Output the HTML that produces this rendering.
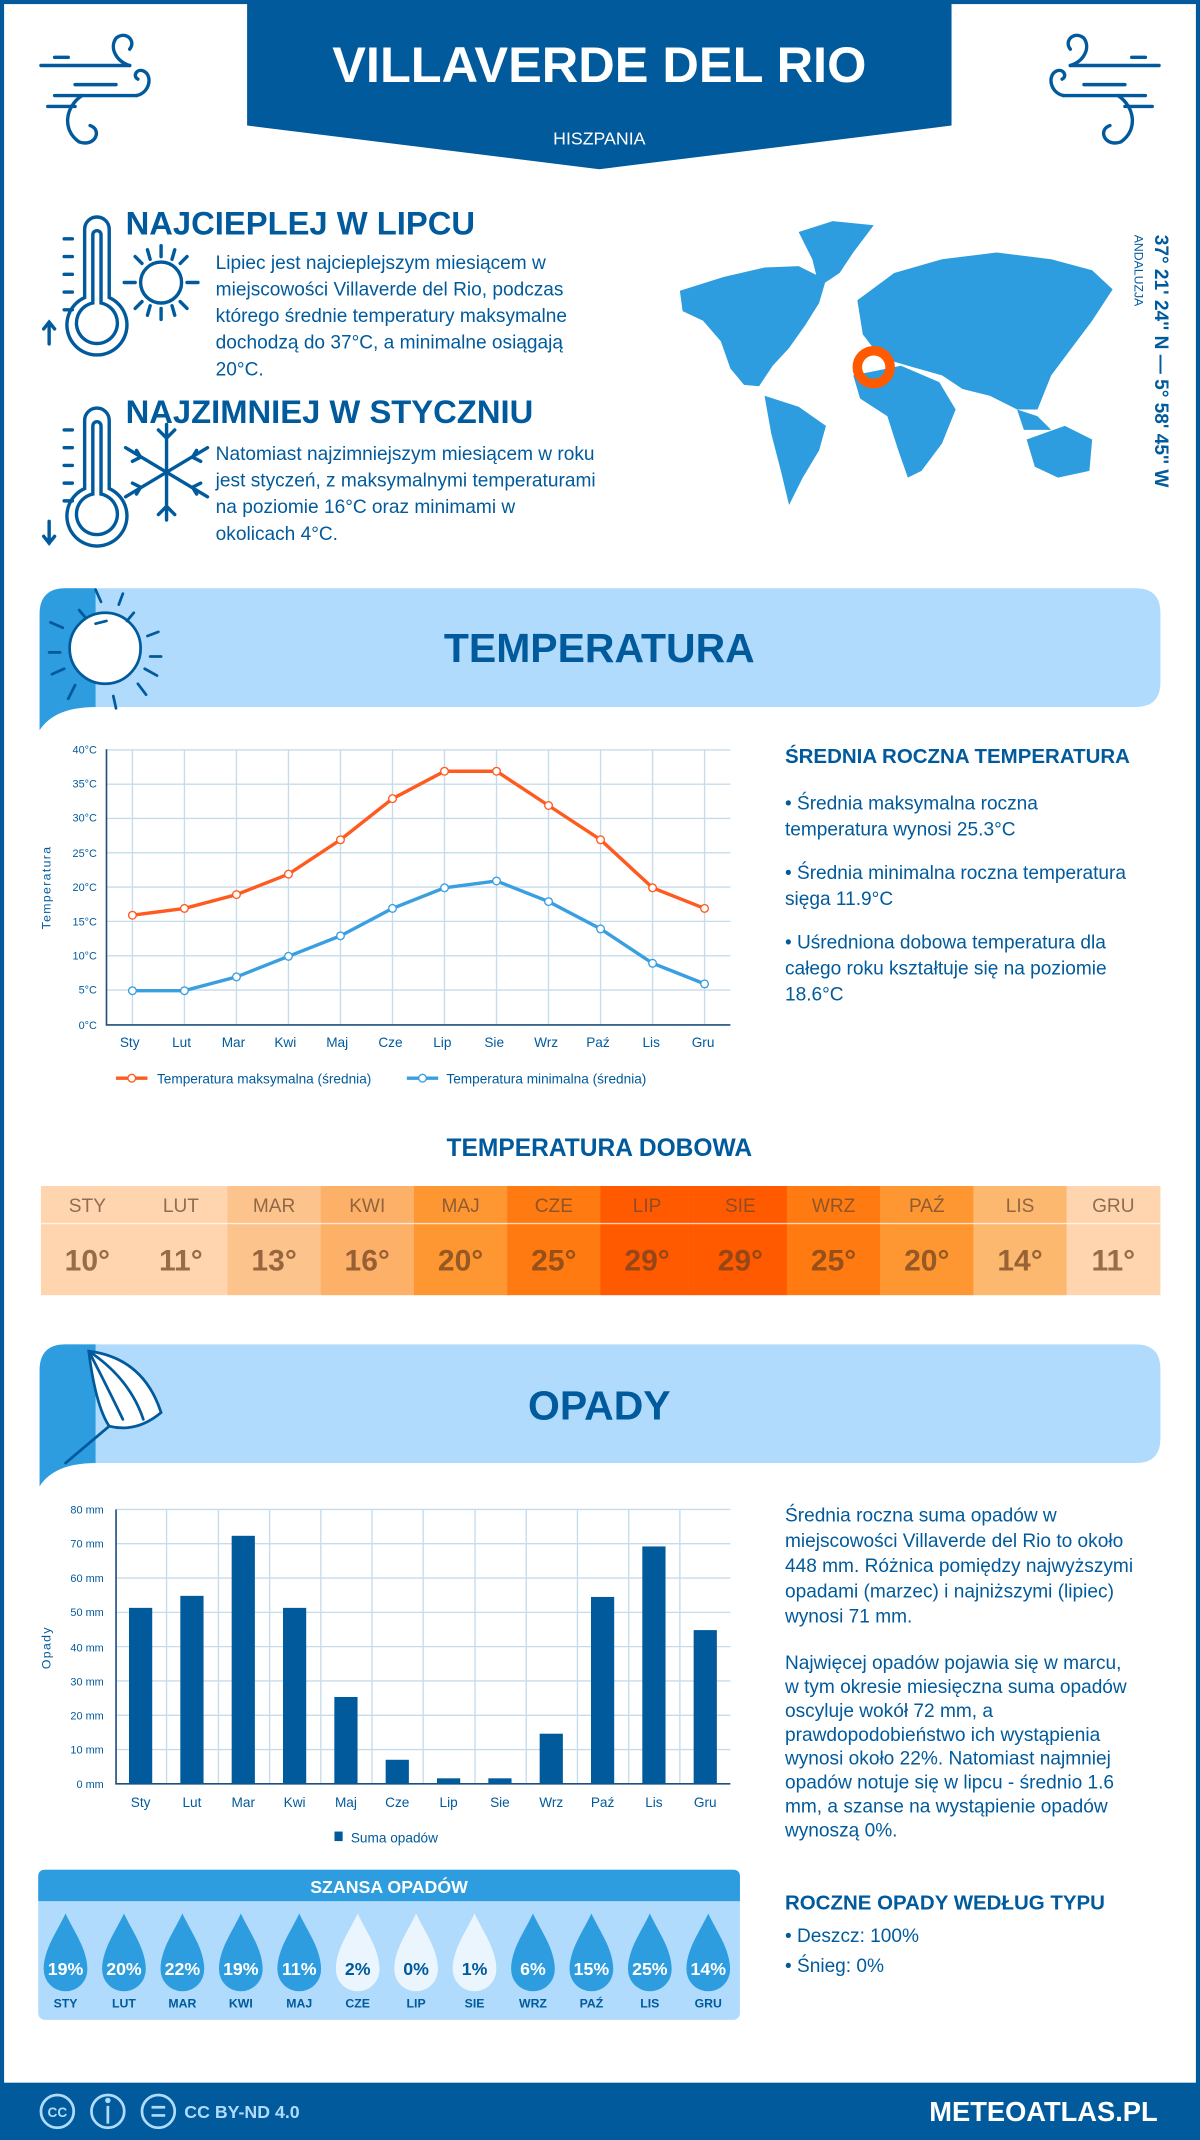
<!DOCTYPE html>
<html><head><meta charset="utf-8"><style>
html,body{margin:0;padding:0;background:#fff;}
svg{display:block;font-family:"Liberation Sans",sans-serif;}
</style></head><body>
<svg width="1200" height="2140" viewBox="0 0 879 1568" preserveAspectRatio="none" xmlns="http://www.w3.org/2000/svg">
<rect x="0" y="0" width="879" height="1568" fill="#fff"/>
<rect x="0" y="0" width="3" height="1568" fill="#005a9c"/>
<rect x="876" y="0" width="3" height="1568" fill="#005a9c"/>
<rect x="0" y="0" width="879" height="3" fill="#005a9c"/>
<path d="M181,0 L697,0 L697,92 L439,124 L181,92 Z" fill="#005a9c"/>
<text x="439" y="60" text-anchor="middle" font-size="37" font-weight="bold" fill="#fff">VILLAVERDE DEL RIO</text>
<text x="439" y="106" text-anchor="middle" font-size="13" fill="#fff">HISZPANIA</text>
<g fill="none" stroke="#005a9c" stroke-width="2.5" stroke-linecap="round">
<path d="M30,48 L95,48 M40,42 L50,42 M40,70 L100,70 M55,62 L85,62 M35,78 L55,78"/>
<path d="M95,48 C85,45 80,35 85,28 C92,22 100,30 95,36"/>
<path d="M100,70 C110,68 112,55 105,52 C100,50 97,56 101,58"/>
<path d="M60,70 C48,78 45,95 58,104 C70,108 75,95 66,92"/>
<path d="M849,48 L784,48 M839,42 L829,42 M839,70 L779,70 M824,62 L794,62 M844,78 L824,78"/>
<path d="M784,48 C794,45 799,35 794,28 C787,22 779,30 784,36"/>
<path d="M779,70 C769,68 767,55 774,52 C779,50 782,56 778,58"/>
<path d="M819,70 C831,78 834,95 821,104 C809,108 804,95 813,92"/>
</g>
<g fill="none" stroke="#005a9c" stroke-width="2.5" stroke-linecap="round">
<path d="M62,218 L62,168 A9,9 0 0 1 80,168 L80,218 A22,22 0 1 1 62,218 Z"/>
<path d="M68,222 L68,172 A3,3 0 0 1 74,172 L74,222 A15,15 0 1 1 68,222 Z"/>
<path d="M47,175 L53,175 M47,188 L53,188 M47,201 L53,201 M47,214 L53,214 M47,227 L53,227"/>
<path d="M36,252 L36,236 M32,241 L36,236 L40,241"/>
<path d="M62,358 L62,308 A9,9 0 0 1 80,308 L80,358 A22,22 0 1 1 62,358 Z"/>
<path d="M68,362 L68,312 A3,3 0 0 1 74,312 L74,362 A15,15 0 1 1 68,362 Z"/>
<path d="M47,315 L53,315 M47,328 L53,328 M47,341 L53,341 M47,354 L53,354 M47,367 L53,367"/>
<path d="M36,382 L36,398 M32,393 L36,398 L40,393"/>
<circle cx="118" cy="207" r="15"/>
<path d="M118,180 L118,188 M118,226 L118,234 M91,207 L99,207 M137,207 L145,207 M99,188 L104,193 M132,221 L137,226 M137,188 L132,193 M99,226 L104,221 M108,183 L110,190 M128,183 L126,190 M108,231 L110,224 M128,231 L126,224"/>
<path d="M122,311 L122,381 M92,328 L152,364 M152,328 L92,364 M116,315 L122,321 L128,315 M116,377 L122,371 L128,377 M97,338 L103,335 L100,330 M147,354 L141,357 L144,362 M147,338 L141,335 L144,330 M97,354 L103,357 L100,362"/>
</g>
<text x="92" y="172" font-size="24" font-weight="bold" fill="#005a9c">NAJCIEPLEJ W LIPCU</text>
<g font-size="14" fill="#005a9c">
<text x="158" y="197">Lipiec jest najcieplejszym miesiącem w</text>
<text x="158" y="216.5">miejscowości Villaverde del Rio, podczas</text>
<text x="158" y="236">którego średnie temperatury maksymalne</text>
<text x="158" y="255.5">dochodzą do 37°C, a minimalne osiągają</text>
<text x="158" y="275">20°C.</text>
</g>
<text x="92" y="310" font-size="24" font-weight="bold" fill="#005a9c">NAJZIMNIEJ W STYCZNIU</text>
<g font-size="14" fill="#005a9c">
<text x="158" y="337">Natomiast najzimniejszym miesiącem w roku</text>
<text x="158" y="356.5">jest styczeń, z maksymalnymi temperaturami</text>
<text x="158" y="376">na poziomie 16°C oraz minimami w</text>
<text x="158" y="395.5">okolicach 4°C.</text>
</g>
<g fill="#2d9ddf">
<path d="M498,213 L530,203 L560,196 L585,195 L605,205 L600,222 L590,238 L578,255 L566,268 L556,283 L545,282 L535,270 L528,250 L515,235 L500,228Z"/>
<path d="M585,170 L610,162 L640,165 L625,185 L615,200 L600,210 L595,190Z"/>
<path d="M560,290 L585,298 L605,312 L600,330 L588,350 L578,370 L572,345 L565,318Z"/>
<path d="M628,220 L655,200 L690,190 L730,185 L770,190 L800,198 L815,212 L800,235 L785,255 L770,275 L760,300 L745,300 L725,290 L705,285 L690,275 L665,268 L645,262 L632,245Z"/>
<path d="M625,275 L660,268 L688,280 L700,300 L690,325 L675,345 L665,350 L658,330 L650,305 L630,292Z"/>
<path d="M752,322 L780,312 L800,322 L798,345 L775,350 L758,342Z"/>
<path d="M745,300 L760,305 L770,315 L750,315Z"/>
</g>
<circle cx="640" cy="269" r="12" fill="none" stroke="#ff5a00" stroke-width="7"/>
<text transform="translate(846,172) rotate(90)" font-size="14" font-weight="bold" fill="#005a9c">37° 21' 24'' N — 5° 58' 45'' W</text>
<text transform="translate(831,172) rotate(90)" font-size="9" fill="#005a9c">ANDALUZJA</text>
<path d="M29,450 Q29,431 48,431 L832,431 Q850,431 850,449 L850,500 Q850,518 832,518 L70,518 Q40,518 29,535 Z" fill="#b0dbfc"/>
<path d="M29,450 Q29,431 48,431 L70,431 L70,518 Q40,518 29,535 Z" fill="#2d9ddf"/>
<g fill="none" stroke="#005a9c" stroke-width="2" stroke-linecap="round">
<circle cx="77" cy="475" r="26" fill="#fff"/>
<path d="M74,441 L70,432 M87,443 L90,435 M46,460 L37,456 M108,466 L116,463 M44,478 L36,478 M110,481 L118,481 M47,490 L38,494 M106,490 L115,495 M55,502 L50,512 M101,501 L107,509 M83,510 L85,519 M58,447 L63,453 M98,449 L93,455 M70,457 L78,455"/>
</g>
<text x="439" y="485" text-anchor="middle" font-size="30" font-weight="bold" fill="#005a9c">TEMPERATURA</text>
<g stroke="#c7dceb" stroke-width="1">
<path d="M78,549.5 H535 M78,574.6 H535 M78,599.7 H535 M78,624.9 H535 M78,650 H535 M78,675.1 H535 M78,700.3 H535 M78,725.4 H535"/>
<path d="M97,549 V751 M135.1,549 V751 M173.2,549 V751 M211.3,549 V751 M249.4,549 V751 M287.5,549 V751 M325.6,549 V751 M363.7,549 V751 M401.8,549 V751 M439.9,549 V751 M478,549 V751 M516.1,549 V751"/>
</g>
<path d="M78,549 V751 H535" fill="none" stroke="#1f4f7a" stroke-width="1.2"/>
<g font-size="8" fill="#005a9c" text-anchor="end">
<text x="71" y="552">40°C</text><text x="71" y="577">35°C</text><text x="71" y="602">30°C</text><text x="71" y="628">25°C</text><text x="71" y="653">20°C</text><text x="71" y="678">15°C</text><text x="71" y="703">10°C</text><text x="71" y="728">5°C</text><text x="71" y="754">0°C</text>
</g>
<text transform="translate(37,681) rotate(-90)" font-size="9" fill="#005a9c" letter-spacing="1">Temperatura</text>
<g font-size="10" fill="#005a9c" text-anchor="middle">
<text x="95" y="767">Sty</text><text x="133" y="767">Lut</text><text x="171" y="767">Mar</text><text x="209" y="767">Kwi</text><text x="247" y="767">Maj</text><text x="286" y="767">Cze</text><text x="324" y="767">Lip</text><text x="362" y="767">Sie</text><text x="400" y="767">Wrz</text><text x="438" y="767">Paź</text><text x="477" y="767">Lis</text><text x="515" y="767">Gru</text>
</g>
<polyline fill="none" stroke="#ff5a1f" stroke-width="2.5" points="97,670.6 135.1,665.6 173.2,655.5 211.3,640.5 249.4,615.3 287.5,585.2 325.6,565.1 363.7,565.1 401.8,590.2 439.9,615.3 478,650.5 516.1,665.6"/>
<polyline fill="none" stroke="#3a9fe0" stroke-width="2.5" points="97,725.9 135.1,725.9 173.2,715.8 211.3,700.7 249.4,685.7 287.5,665.6 325.6,650.5 363.7,645.5 401.8,660.6 439.9,680.6 478,705.8 516.1,720.9"/>
<g fill="#fff" stroke="#ff5a1f" stroke-width="1">
<circle cx="97" cy="670.6" r="2.8"/><circle cx="135.1" cy="665.6" r="2.8"/><circle cx="173.2" cy="655.5" r="2.8"/><circle cx="211.3" cy="640.5" r="2.8"/><circle cx="249.4" cy="615.3" r="2.8"/><circle cx="287.5" cy="585.2" r="2.8"/><circle cx="325.6" cy="565.1" r="2.8"/><circle cx="363.7" cy="565.1" r="2.8"/><circle cx="401.8" cy="590.2" r="2.8"/><circle cx="439.9" cy="615.3" r="2.8"/><circle cx="478" cy="650.5" r="2.8"/><circle cx="516.1" cy="665.6" r="2.8"/>
</g>
<g fill="#fff" stroke="#3a9fe0" stroke-width="1">
<circle cx="97" cy="725.9" r="2.8"/><circle cx="135.1" cy="725.9" r="2.8"/><circle cx="173.2" cy="715.8" r="2.8"/><circle cx="211.3" cy="700.7" r="2.8"/><circle cx="249.4" cy="685.7" r="2.8"/><circle cx="287.5" cy="665.6" r="2.8"/><circle cx="325.6" cy="650.5" r="2.8"/><circle cx="363.7" cy="645.5" r="2.8"/><circle cx="401.8" cy="660.6" r="2.8"/><circle cx="439.9" cy="680.6" r="2.8"/><circle cx="478" cy="705.8" r="2.8"/><circle cx="516.1" cy="720.9" r="2.8"/>
</g>
<path d="M85,790 H108" stroke="#ff5a1f" stroke-width="2.5"/><circle cx="96.5" cy="790" r="2.8" fill="#fff" stroke="#ff5a1f"/>
<text x="115" y="794" font-size="10" fill="#005a9c">Temperatura maksymalna (średnia)</text>
<path d="M298,790 H321" stroke="#3a9fe0" stroke-width="2.5"/><circle cx="309.5" cy="790" r="2.8" fill="#fff" stroke="#3a9fe0"/>
<text x="327" y="794" font-size="10" fill="#005a9c">Temperatura minimalna (średnia)</text>
<text x="575" y="559" font-size="15" font-weight="bold" fill="#005a9c">ŚREDNIA ROCZNA TEMPERATURA</text>
<g font-size="14" fill="#005a9c">
<text x="575" y="593">• Średnia maksymalna roczna</text>
<text x="575" y="612">temperatura wynosi 25.3°C</text>
<text x="575" y="644">• Średnia minimalna roczna temperatura</text>
<text x="575" y="663">sięga 11.9°C</text>
<text x="575" y="695">• Uśredniona dobowa temperatura dla</text>
<text x="575" y="714">całego roku kształtuje się na poziomie</text>
<text x="575" y="733">18.6°C</text>
</g>
<text x="439" y="847" text-anchor="middle" font-size="18" font-weight="bold" fill="#005a9c">TEMPERATURA DOBOWA</text>
<g>
<rect x="30" y="869" width="68.5" height="80" fill="#fed5ae"/>
<rect x="98.3" y="869" width="68.5" height="80" fill="#fed5ae"/>
<rect x="166.6" y="869" width="68.5" height="80" fill="#fdc38c"/>
<rect x="234.9" y="869" width="68.5" height="80" fill="#fdb068"/>
<rect x="303.2" y="869" width="68.5" height="80" fill="#fe9631"/>
<rect x="371.5" y="869" width="68.5" height="80" fill="#ff7a10"/>
<rect x="439.8" y="869" width="68.5" height="80" fill="#ff5a00"/>
<rect x="508.1" y="869" width="68.5" height="80" fill="#ff5a00"/>
<rect x="576.4" y="869" width="68.5" height="80" fill="#ff7a10"/>
<rect x="644.7" y="869" width="68.5" height="80" fill="#fe9631"/>
<rect x="713" y="869" width="68.5" height="80" fill="#fdb870"/>
<rect x="781.3" y="869" width="68.7" height="80" fill="#fed5ae"/>
<rect x="30" y="896" width="820" height="1" fill="#fff" opacity="0.7"/>
</g>
<g font-size="14" fill="#6b4a30" fill-opacity="0.75" text-anchor="middle">
<text x="64" y="888">STY</text><text x="132.5" y="888">LUT</text><text x="200.8" y="888">MAR</text><text x="269" y="888">KWI</text><text x="337.4" y="888">MAJ</text><text x="405.7" y="888">CZE</text><text x="474" y="888">LIP</text><text x="542.3" y="888">SIE</text><text x="610.6" y="888">WRZ</text><text x="678.9" y="888">PAŹ</text><text x="747.2" y="888">LIS</text><text x="815.5" y="888">GRU</text>
</g>
<g font-size="22" font-weight="bold" fill="#6b3e1e" fill-opacity="0.7" text-anchor="middle">
<text x="64" y="931">10°</text><text x="132.5" y="931">11°</text><text x="200.8" y="931">13°</text><text x="269" y="931">16°</text><text x="337.4" y="931">20°</text><text x="405.7" y="931">25°</text><text x="474" y="931">29°</text><text x="542.3" y="931">29°</text><text x="610.6" y="931">25°</text><text x="678.9" y="931">20°</text><text x="747.2" y="931">14°</text><text x="815.5" y="931">11°</text>
</g>
<path d="M29,1004 Q29,985 48,985 L832,985 Q850,985 850,1003 L850,1054 Q850,1072 832,1072 L70,1072 Q40,1072 29,1089 Z" fill="#b0dbfc"/>
<path d="M29,1004 Q29,985 48,985 L70,985 L70,1072 Q40,1072 29,1089 Z" fill="#2d9ddf"/>
<g fill="none" stroke="#005a9c" stroke-width="2" stroke-linecap="round">
<path d="M65,990 Q105,995 118,1035 Q100,1050 80,1045 Q70,1030 65,990 Z" fill="#fff"/>
<path d="M65,990 Q78,1015 90,1040 M65,990 Q95,1010 105,1040"/>
<path d="M80,1045 L48,1072"/>
</g>
<text x="439" y="1040" text-anchor="middle" font-size="30" font-weight="bold" fill="#005a9c">OPADY</text>
<g stroke="#c7dceb" stroke-width="1">
<path d="M85,1106 H535 M85,1131.1 H535 M85,1156.3 H535 M85,1181.4 H535 M85,1206.5 H535 M85,1231.6 H535 M85,1256.8 H535 M85,1281.9 H535"/>
<path d="M122,1106 V1307 M160,1106 V1307 M197.5,1106 V1307 M235,1106 V1307 M272.5,1106 V1307 M310,1106 V1307 M348,1106 V1307 M385.5,1106 V1307 M423,1106 V1307 M460.5,1106 V1307 M498,1106 V1307"/>
</g>
<path d="M85,1106 V1307 H535" fill="none" stroke="#1f4f7a" stroke-width="1.2"/>
<g font-size="8" fill="#005a9c" text-anchor="end">
<text x="76" y="1109">80 mm</text><text x="76" y="1134">70 mm</text><text x="76" y="1159">60 mm</text><text x="76" y="1184">50 mm</text><text x="76" y="1210">40 mm</text><text x="76" y="1235">30 mm</text><text x="76" y="1260">20 mm</text><text x="76" y="1285">10 mm</text><text x="76" y="1310">0 mm</text>
</g>
<text transform="translate(37,1223) rotate(-90)" font-size="9" fill="#005a9c" letter-spacing="1">Opady</text>
<g fill="#005a9c">
<rect x="94.5" y="1178.1" width="17" height="128.9"/>
<rect x="132.1" y="1169.3" width="17" height="137.7"/>
<rect x="169.7" y="1125.3" width="17" height="181.7"/>
<rect x="207.3" y="1178.1" width="17" height="128.9"/>
<rect x="244.9" y="1243.4" width="17" height="63.6"/>
<rect x="282.5" y="1289.4" width="17" height="17.6"/>
<rect x="320.1" y="1303" width="17" height="4"/>
<rect x="357.7" y="1303" width="17" height="4"/>
<rect x="395.3" y="1270.3" width="17" height="36.7"/>
<rect x="432.9" y="1170.1" width="17" height="136.9"/>
<rect x="470.5" y="1133.1" width="17" height="173.9"/>
<rect x="508.1" y="1194.4" width="17" height="112.6"/>
</g>
<g font-size="10" fill="#005a9c" text-anchor="middle">
<text x="103" y="1324">Sty</text><text x="140.6" y="1324">Lut</text><text x="178.2" y="1324">Mar</text><text x="215.8" y="1324">Kwi</text><text x="253.4" y="1324">Maj</text><text x="291" y="1324">Cze</text><text x="328.6" y="1324">Lip</text><text x="366.2" y="1324">Sie</text><text x="403.8" y="1324">Wrz</text><text x="441.4" y="1324">Paź</text><text x="479" y="1324">Lis</text><text x="516.6" y="1324">Gru</text>
</g>
<rect x="245" y="1342" width="6" height="7" fill="#005a9c"/>
<text x="257" y="1350" font-size="10" fill="#005a9c">Suma opadów</text>
<g font-size="14" fill="#005a9c">
<text x="575" y="1115">Średnia roczna suma opadów w</text>
<text x="575" y="1133.5">miejscowości Villaverde del Rio to około</text>
<text x="575" y="1152">448 mm. Różnica pomiędzy najwyższymi</text>
<text x="575" y="1170.5">opadami (marzec) i najniższymi (lipiec)</text>
<text x="575" y="1189">wynosi 71 mm.</text>
<text x="575" y="1223">Najwięcej opadów pojawia się w marcu,</text>
<text x="575" y="1240.5">w tym okresie miesięczna suma opadów</text>
<text x="575" y="1258">oscyluje wokół 72 mm, a</text>
<text x="575" y="1275.5">prawdopodobieństwo ich wystąpienia</text>
<text x="575" y="1293">wynosi około 22%. Natomiast najmniej</text>
<text x="575" y="1310.5">opadów notuje się w lipcu - średnio 1.6</text>
<text x="575" y="1328">mm, a szanse na wystąpienie opadów</text>
<text x="575" y="1345.5">wynoszą 0%.</text>
</g>
<rect x="28" y="1370" width="514" height="110" rx="5" fill="#b0dbfc"/>
<path d="M28,1393 V1375 Q28,1370 33,1370 H537 Q542,1370 542,1375 V1393 Z" fill="#2d9ddf"/>
<text x="285" y="1387" text-anchor="middle" font-size="13" font-weight="bold" fill="#fff">SZANSA OPADÓW</text>
<g>
<path d="M48,1402 C54,1415 64,1428 64,1443 A16,16 0 0 1 32,1443 C32,1428 42,1415 48,1402Z" fill="#2d9ddf"/>
<path d="M90.8,1402 C96.8,1415 106.8,1428 106.8,1443 A16,16 0 0 1 74.8,1443 C74.8,1428 84.8,1415 90.8,1402Z" fill="#2d9ddf"/>
<path d="M133.6,1402 C139.6,1415 149.6,1428 149.6,1443 A16,16 0 0 1 117.6,1443 C117.6,1428 127.6,1415 133.6,1402Z" fill="#2d9ddf"/>
<path d="M176.4,1402 C182.4,1415 192.4,1428 192.4,1443 A16,16 0 0 1 160.4,1443 C160.4,1428 170.4,1415 176.4,1402Z" fill="#2d9ddf"/>
<path d="M219.2,1402 C225.2,1415 235.2,1428 235.2,1443 A16,16 0 0 1 203.2,1443 C203.2,1428 213.2,1415 219.2,1402Z" fill="#2d9ddf"/>
<path d="M262,1402 C268,1415 278,1428 278,1443 A16,16 0 0 1 246,1443 C246,1428 256,1415 262,1402Z" fill="#eaf5fe"/>
<path d="M304.8,1402 C310.8,1415 320.8,1428 320.8,1443 A16,16 0 0 1 288.8,1443 C288.8,1428 298.8,1415 304.8,1402Z" fill="#eaf5fe"/>
<path d="M347.6,1402 C353.6,1415 363.6,1428 363.6,1443 A16,16 0 0 1 331.6,1443 C331.6,1428 341.6,1415 347.6,1402Z" fill="#eaf5fe"/>
<path d="M390.4,1402 C396.4,1415 406.4,1428 406.4,1443 A16,16 0 0 1 374.4,1443 C374.4,1428 384.4,1415 390.4,1402Z" fill="#2d9ddf"/>
<path d="M433.2,1402 C439.2,1415 449.2,1428 449.2,1443 A16,16 0 0 1 417.2,1443 C417.2,1428 427.2,1415 433.2,1402Z" fill="#2d9ddf"/>
<path d="M476,1402 C482,1415 492,1428 492,1443 A16,16 0 0 1 460,1443 C460,1428 470,1415 476,1402Z" fill="#2d9ddf"/>
<path d="M518.8,1402 C524.8,1415 534.8,1428 534.8,1443 A16,16 0 0 1 502.8,1443 C502.8,1428 512.8,1415 518.8,1402Z" fill="#2d9ddf"/>
</g>
<g font-size="13" font-weight="bold" text-anchor="middle" fill="#fff">
<text x="48" y="1447">19%</text><text x="90.8" y="1447">20%</text><text x="133.6" y="1447">22%</text><text x="176.4" y="1447">19%</text><text x="219.2" y="1447">11%</text>
<text x="262" y="1447" fill="#005a9c">2%</text><text x="304.8" y="1447" fill="#005a9c">0%</text><text x="347.6" y="1447" fill="#005a9c">1%</text>
<text x="390.4" y="1447">6%</text><text x="433.2" y="1447">15%</text><text x="476" y="1447">25%</text><text x="518.8" y="1447">14%</text>
</g>
<g font-size="9" font-weight="bold" text-anchor="middle" fill="#005a9c">
<text x="48" y="1471">STY</text><text x="90.8" y="1471">LUT</text><text x="133.6" y="1471">MAR</text><text x="176.4" y="1471">KWI</text><text x="219.2" y="1471">MAJ</text><text x="262" y="1471">CZE</text><text x="304.8" y="1471">LIP</text><text x="347.6" y="1471">SIE</text><text x="390.4" y="1471">WRZ</text><text x="433.2" y="1471">PAŹ</text><text x="476" y="1471">LIS</text><text x="518.8" y="1471">GRU</text>
</g>
<text x="575" y="1399" font-size="15" font-weight="bold" fill="#005a9c">ROCZNE OPADY WEDŁUG TYPU</text>
<text x="575" y="1423" font-size="14" fill="#005a9c">• Deszcz: 100%</text>
<text x="575" y="1445" font-size="14" fill="#005a9c">• Śnieg: 0%</text>
<rect x="0" y="1526" width="879" height="42" fill="#005a9c"/>
<g fill="none" stroke="#b0dbfc" stroke-width="2">
<ellipse cx="42" cy="1547" rx="12" ry="12"/>
<ellipse cx="79" cy="1547" rx="12" ry="12"/>
<ellipse cx="116" cy="1547" rx="12" ry="12"/>
<path d="M111,1544 H121 M111,1550 H121"/>
<path d="M79,1543 V1556"/>
</g>
<circle cx="79" cy="1539" r="2" fill="#b0dbfc"/>
<text x="42" y="1551" text-anchor="middle" font-size="10" font-weight="bold" fill="#b0dbfc">CC</text>
<text x="135" y="1552" font-size="13" font-weight="bold" fill="#b0dbfc">CC BY-ND 4.0</text>
<text x="848" y="1554" text-anchor="end" font-size="20" font-weight="bold" fill="#fff">METEOATLAS.PL</text>
</svg>
</body></html>
